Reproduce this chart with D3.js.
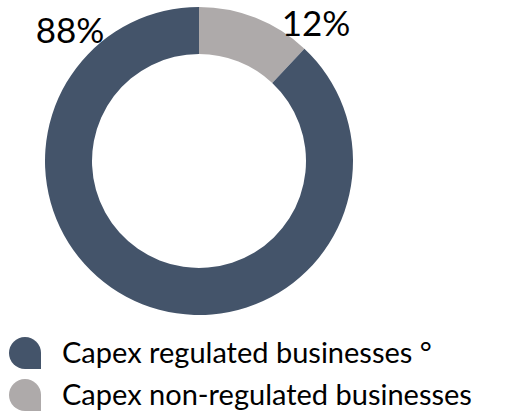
<!DOCTYPE html>
<html><head><meta charset="utf-8">
<script src="https://cdn.jsdelivr.net/npm/d3@7"></script>
<style>body{margin:0;background:#fff}svg{display:block}text{font-family:Lato,"Open Sans",sans-serif;fill:#000}</style>
</head><body>
<script>
const categories = ["Capex non-regulated businesses", "Capex regulated businesses"];
const values = [12, 88];
const labels = ["12%", "88%"];
const legendLabels = ["Capex regulated businesses °", "Capex non-regulated businesses"];
const colors = ["#AEAAAA", "#44546A"];
const legendColors = ["#44546A", "#AEAAAA"];

const W = 508, H = 420;
const svg = d3.select("body").append("svg").attr("width", W).attr("height", H);
const cx = 199, cy = 161, rOuter = 154, rInner = 107;

const pie = d3.pie().sort(null).value(d => d)(values);
const arc = d3.arc().innerRadius(rInner).outerRadius(rOuter);
const g = svg.append("g").attr("transform", `translate(${cx},${cy})`);
g.selectAll("path").data(pie).join("path").attr("d", arc).attr("fill", (d, i) => colors[i]);

// labels
const labelPos = [{x: 316, y: 36}, {x: 70, y: 43}];
svg.selectAll("text.lbl").data(labels).join("text").attr("class", "lbl")
  .attr("x", (d, i) => labelPos[i].x).attr("y", (d, i) => labelPos[i].y)
  .attr("text-anchor", "middle").attr("font-size", 35).text(d => d);

// legend
function marker(x, y, s) {
  return `M${x},${y + s / 2} A${s / 2},${s / 2} 0 0 1 ${x + s},${y + s / 2} L${x + s},${y + s} L${x + s / 2},${y + s} A${s / 2},${s / 2} 0 0 1 ${x},${y + s / 2} Z`;
}
const leg = svg.selectAll("g.leg").data(legendLabels).join("g").attr("class", "leg")
  .attr("transform", (d, i) => `translate(0,${i * 42})`);
leg.append("path").attr("d", marker(9, 337, 32)).attr("fill", (d, i) => legendColors[i]);
leg.append("text").attr("x", 62).attr("y", 363).attr("font-size", 29).text(d => d);
</script>
</body></html>
